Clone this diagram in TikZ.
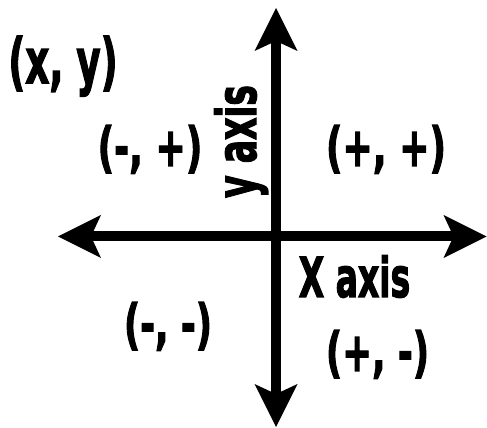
\documentclass[tikz,border=0pt]{standalone}
\usepackage{fontspec}
\usetikzlibrary{arrows.meta}
\newfontfamily\lblfont{DejaVu Sans}[FakeBold=2.5]
\tikzset{
  axisline/.style={line width=10pt,
    {Stealth[length=43pt,width=43pt,inset=10pt,line width=0pt]}-{Stealth[length=43pt,width=43pt,inset=10pt,line width=0pt]}},
  lbl/.style={inner sep=0pt, anchor=base, font=\lblfont\bfseries}
}
\begin{document}
\begin{tikzpicture}[x=1pt,y=1pt]
\useasboundingbox (0,0) rectangle (487,428);
\coordinate (ytop) at (276,420);
\coordinate (ybot) at (276,1);
\coordinate (xleft) at (58,191.5);
\coordinate (xright) at (486.5,191.5);
\draw[axisline] (xleft) -- (xright);
\draw[axisline] (ybot) -- (ytop);
\node[lbl] (xy) at (63,345) {\fontsize{62}{62}\selectfont\scalebox{0.6}[1]{(x, y)}};
\node[lbl] (q2) at (150,262) {\fontsize{54}{54}\selectfont\scalebox{0.67}[1]{(-, +)}};
\node[lbl] (q1) at (386,262) {\fontsize{54}{54}\selectfont\scalebox{0.67}[1]{(+, +)}};
\node[lbl] (q3) at (168,85) {\fontsize{54}{54}\selectfont\scalebox{0.66}[1]{(-, -)}};
\node[lbl] (q4) at (377.5,57) {\fontsize{54}{54}\selectfont\scalebox{0.66}[1]{(+, -)}};
\node[lbl] (xaxis) at (354.5,131) {\fontsize{55}{55}\selectfont\scalebox{0.6}[1]{X axis}};
\node[lbl, rotate=90] (yaxis) at (256,286.5) {\fontsize{55}{55}\selectfont\scalebox{0.63}[1]{y axis}};
\end{tikzpicture}
\end{document}
